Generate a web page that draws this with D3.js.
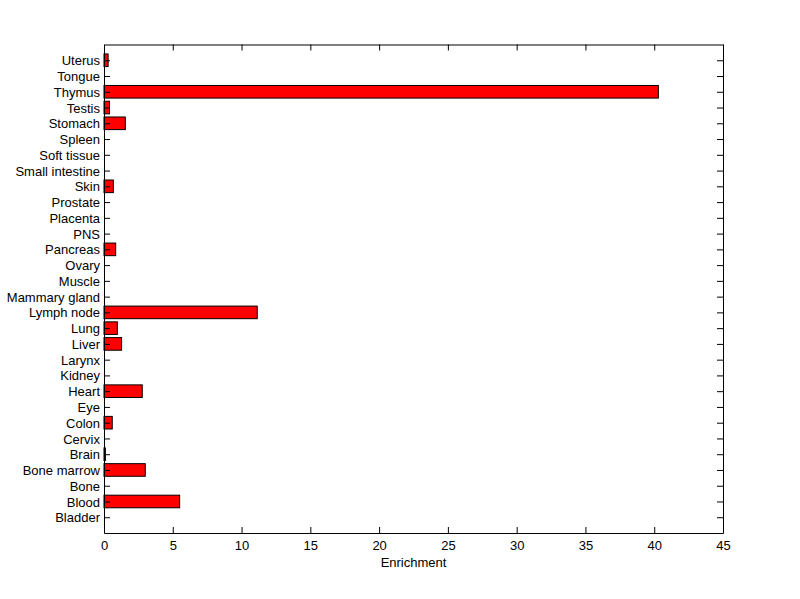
<!DOCTYPE html>
<html>
  <head>
    <meta charset="utf-8">
    <title>Enrichment by tissue</title>
    <script src="https://d3js.org/d3.v7.min.js"></script>
    <style>
      body { margin: 0; background: #fff; }
      text { font-family: "Liberation Sans", Arial, sans-serif; font-size: 13px; fill: #000; }
      .domain, .tick line { stroke: #000; }
    </style>
  </head>
  <body>
    <svg id="chart" width="800" height="599"></svg>
    <script>
      // categories, bottom to top
      var tissues = ["Bladder", "Blood", "Bone", "Bone marrow", "Brain", "Cervix", "Colon", "Eye",
        "Heart", "Kidney", "Larynx", "Liver", "Lung", "Lymph node", "Mammary gland", "Muscle",
        "Ovary", "Pancreas", "PNS", "Placenta", "Prostate", "Skin", "Small intestine",
        "Soft tissue", "Spleen", "Stomach", "Testis", "Thymus", "Tongue", "Uterus"];
      var enrichment = [0, 5.5, 0, 3.0, 0.1, 0, 0.6, 0,
        2.78, 0, 0, 1.28, 0.97, 11.14, 0, 0,
        0, 0.85, 0, 0, 0, 0.68, 0,
        0, 0, 1.55, 0.4, 40.3, 0, 0.3];
      var xTicks = [0, 5, 10, 15, 20, 25, 30, 35, 40, 45];

      var margin = { top: 44.5, right: 77, bottom: 66, left: 104 };
      var width = 800, height = 599;
      var svg = d3.select("#chart");

      var x = d3.scaleLinear()
        .domain([0, 45])
        .range([margin.left, width - margin.right]);
      // MATLAB-style: categories at 1..n, limits 0..n+1
      var y = d3.scaleLinear()
        .domain([0, tissues.length + 1])
        .range([height - margin.bottom, margin.top]);
      var barH = (y(0) - y(0.8));

      // bars
      svg.append("g")
        .selectAll("rect")
        .data(enrichment.map(function(v, i) { return { name: tissues[i], value: v, pos: i + 1 }; })
          .filter(function(d) { return d.value > 0; }))
        .enter().append("rect")
          .attr("x", x(0))
          .attr("y", function(d) { return y(d.pos) - barH / 2; })
          .attr("width", function(d) { return x(d.value) - x(0); })
          .attr("height", barH)
          .style("fill", "#ff0000")
          .style("stroke", "#000")
          .style("stroke-width", 1);

      var yPos = tissues.map(function(d, i) { return i + 1; });

      // left axis
      svg.append("g")
        .attr("transform", "translate(" + x(0) + ",0)")
        .call(d3.axisLeft(y).tickValues(yPos)
          .tickFormat(function(d) { return tissues[d - 1]; })
          .tickSizeInner(-6).tickSizeOuter(0).tickPadding(4))
        .call(function(g) { g.selectAll("text").attr("dy", "0.35em"); });
      // right axis
      svg.append("g")
        .attr("transform", "translate(" + x(45) + ",0)")
        .call(d3.axisRight(y).tickValues(yPos).tickFormat("")
          .tickSizeInner(-6).tickSizeOuter(0));
      // bottom axis
      svg.append("g")
        .attr("transform", "translate(0," + y(0) + ")")
        .call(d3.axisBottom(x).tickValues(xTicks).tickFormat(d3.format("d"))
          .tickSizeInner(-6).tickSizeOuter(0).tickPadding(8));
      // top axis
      svg.append("g")
        .attr("transform", "translate(0," + y(tissues.length + 1) + ")")
        .call(d3.axisTop(x).tickValues(xTicks).tickFormat("")
          .tickSizeInner(-6).tickSizeOuter(0));

      svg.selectAll(".domain").style("stroke-width", 1);

      svg.append("text")
        .attr("x", (x(0) + x(45)) / 2)
        .attr("y", height - 32)
        .attr("text-anchor", "middle")
        .text("Enrichment");
    </script>
  </body>
</html>
